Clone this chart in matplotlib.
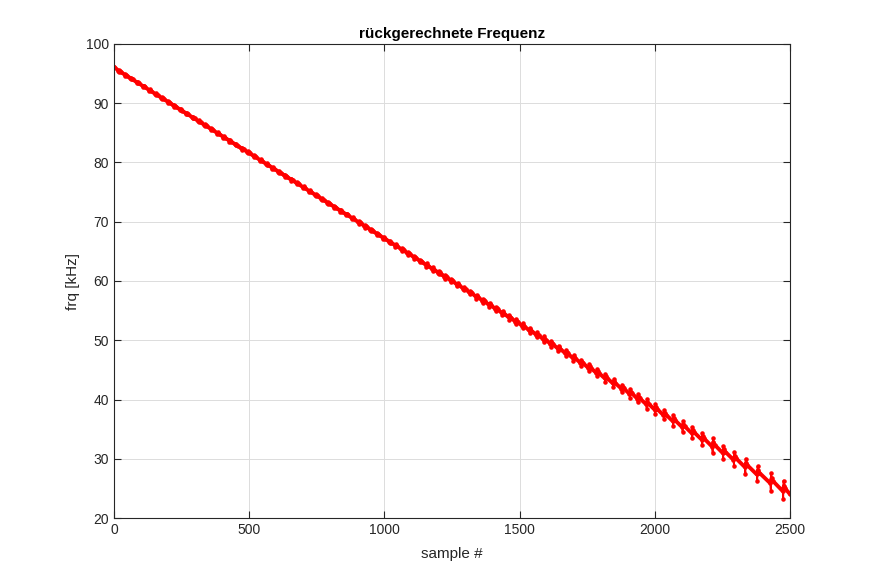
import numpy as np
import matplotlib
matplotlib.use("Agg")
import matplotlib.pyplot as plt

# ---- data ----
# baseline trend (sample, kHz)
trend_samples = [0, 250, 500, 750, 1000, 1250, 1500, 1750, 2000, 2250, 2500]
trend_values = [96.0, 88.8, 81.6, 74.4, 67.2, 60.0, 52.8, 45.6, 38.5, 31.3, 24.2]

# sample positions of the glitches (sawtooth jumps)
glitch_pos = [18, 41, 63, 86, 109, 131, 154, 177, 200, 222, 245, 268, 291, 313, 336,
              359, 382, 404, 427, 450, 473, 495, 518, 541, 564, 586, 609, 632, 655,
              677, 700, 723, 746, 768, 791, 814, 837, 859, 882, 905, 928, 950, 973,
              996, 1019, 1041, 1064, 1087, 1110, 1132, 1155, 1178, 1201, 1224, 1247,
              1270, 1293, 1316, 1340, 1364, 1388, 1412, 1436, 1461, 1486, 1511, 1537,
              1563, 1589, 1616, 1643, 1671, 1699, 1727, 1756, 1786, 1816, 1847, 1878,
              1908, 1937, 1970, 2001, 2034, 2068, 2103, 2138, 2175, 2214, 2253, 2293,
              2335, 2379, 2429, 2475]

# total glitch extent (kHz)
glitch_amp = [0.30, 0.30, 0.30, 0.30, 0.30, 0.30, 0.30, 0.30, 0.30, 0.30, 0.30, 0.30,
              0.30, 0.30, 0.30, 0.30, 0.30, 0.30, 0.30, 0.30, 0.35, 0.35, 0.35, 0.35,
              0.35, 0.35, 0.35, 0.35, 0.35, 0.35, 0.35, 0.35, 0.35, 0.35, 0.35, 0.35,
              0.35, 0.35, 0.35, 0.45, 0.45, 0.45, 0.45, 0.45, 0.45, 0.45, 0.45, 0.50,
              0.50, 0.50, 0.55, 0.55, 0.55, 0.60, 0.60, 0.60, 0.65, 0.65, 0.70, 0.70,
              0.75, 0.75, 0.80, 0.80, 0.85, 0.85, 0.90, 0.90, 0.95, 1.00, 1.00, 1.05,
              1.10, 1.10, 1.15, 1.20, 1.30, 1.40, 1.30, 1.50, 1.40, 1.60, 1.70, 1.60,
              1.80, 1.90, 1.80, 2.00, 2.60, 2.20, 2.40, 2.60, 2.50, 3.00, 3.20]

start_value = 96.2
end_value = 24.0

# ---- build polyline vertices from the readings ----
def tr(s):
    return np.interp(s, trend_samples, trend_values)

xs, ys = [0], [start_value]          # all vertices (thin trace with spikes)
bx, by = [0], [start_value]          # body vertices (thick trace)
for p, a in zip(glitch_pos, glitch_amp):
    lo = 0.55 * a
    hi = 0.45 * a
    pre = (p - 2, tr(p - 2) - 0.3 * hi)
    low = (p, tr(p) - lo)
    high = (p + 1, tr(p + 1) + hi)
    top = (p + 3, tr(p + 3) + 0.45 * hi)
    post = (p + 7, tr(p + 7) + 0.2 * hi)
    for v in (pre, low, high, top, post):
        xs.append(v[0]); ys.append(v[1])
    for v in (pre, top, post):
        bx.append(v[0]); by.append(v[1])
xs.append(2500); ys.append(end_value)
bx.append(2500); by.append(end_value)

# ---- figure ----
plt.rcParams['font.family'] = ['Liberation Sans', 'DejaVu Sans']
fig = plt.figure(figsize=(8.74, 5.82), dpi=100)
ax = fig.add_axes([114 / 874, 1 - 518 / 582, 676 / 874, 474 / 582])

ax.plot(bx, by, color='red', linewidth=2.8, solid_joinstyle='round',
        solid_capstyle='round')
ax.plot(xs, ys, color='red', linewidth=1.3, marker='.', markersize=4.5,
        solid_joinstyle='round')

ax.set_xlim(0, 2500)
ax.set_ylim(20, 100)
ax.set_xticks([0, 500, 1000, 1500, 2000, 2500])
ax.set_yticks([20, 30, 40, 50, 60, 70, 80, 90, 100])

axc = '#262626'
for sp in ax.spines.values():
    sp.set_color(axc)
    sp.set_linewidth(0.8)
ax.tick_params(direction='in', length=5, width=0.8, colors=axc, labelsize=10,
               top=True, right=True, labelcolor=axc)
ax.grid(True, color='#dcdcdc', linewidth=0.7)
ax.set_axisbelow(True)

ax.set_title('rückgerechnete Frequenz', fontsize=11, fontweight='bold', color='black', pad=4)
ax.set_xlabel('sample #', fontsize=11, color=axc, labelpad=7)
ax.set_ylabel('frq [kHz]', fontsize=11, color=axc, labelpad=4)

fig.savefig('out.png', dpi=100, facecolor='white')
